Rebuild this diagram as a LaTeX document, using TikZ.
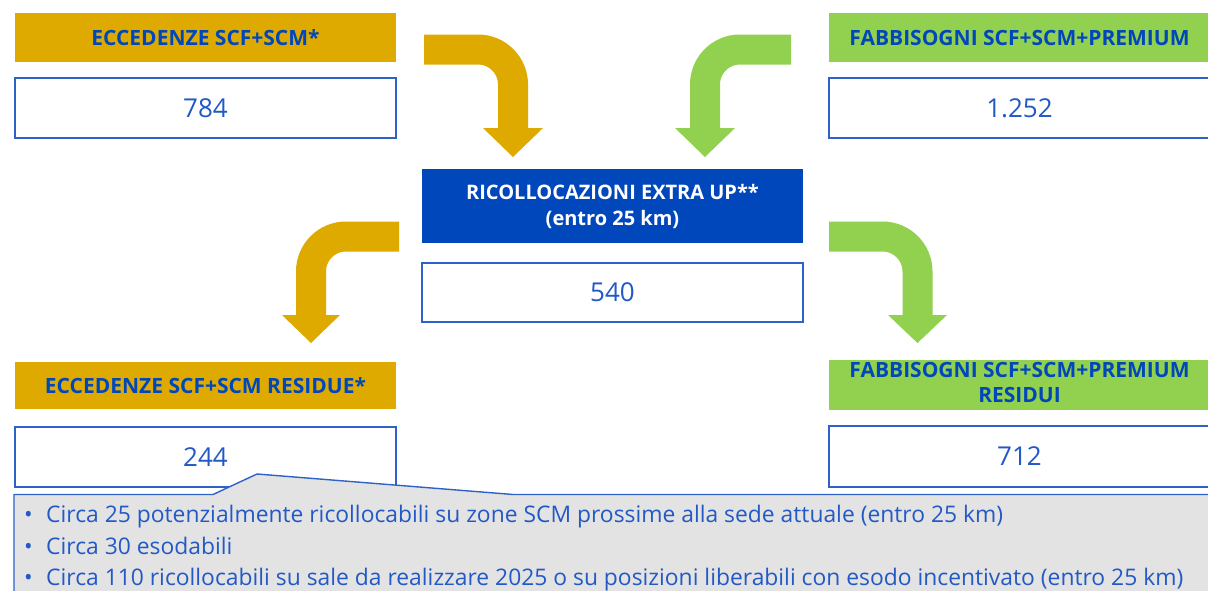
\documentclass[tikz,border=0pt]{standalone}
\usepackage{fontspec}
\setmainfont{Open Sans}
\definecolor{gold}{HTML}{DFAA00}
\definecolor{lgreen}{HTML}{92D050}
\definecolor{dblue}{HTML}{0047BB}
\definecolor{tblue}{HTML}{2259C6}
\definecolor{bordblue}{HTML}{2E62C9}
\definecolor{cgray}{HTML}{E3E3E3}
\newlength\LthreeW
\begin{document}
\settowidth\LthreeW{\fontsize{20pt}{24pt}\selectfont Circa 110 ricollocabili su sale da realizzare 2025 o su posizioni liberabili con esodo incentivato (entro 25 km)}%
\pgfmathsetmacro\bfs{20*(1137/\LthreeW)}%
\begin{tikzpicture}[x=1pt,y=-1pt,
  hdr/.style={rectangle,inner sep=0pt,outer sep=0pt,anchor=north west,minimum width=381pt,align=center,text=dblue,font=\fontsize{21pt}{25pt}\selectfont\bfseries},
  valbox/.style={rectangle,draw=bordblue,line width=1.1pt,fill=white,inner sep=0pt,outer sep=0pt,anchor=north west,minimum width=381pt,minimum height=60pt,text=tblue,font=\fontsize{26pt}{30pt}\selectfont},
  bentarrow/.style={line width=30pt,rounded corners=35pt},
  bullet/.style={anchor=base west,inner sep=0pt,text=tblue},
  bfont/.style={font=\fontsize{\bfs pt}{\bfs pt}\selectfont}
]
\useasboundingbox (0,0) rectangle (1208,590);
\fill[white] (0,0) rectangle (1208,590);
% top row
\node[hdr,fill=gold,minimum height=49pt] (h1) at (15,13) {ECCEDENZE SCF+SCM*};
\node[valbox] (v1) at (15,78) {784};
\node[hdr,fill=lgreen,minimum height=49pt,minimum width=390pt] (h2) at (829,13) {\hspace*{-9pt}FABBISOGNI SCF+SCM+PREMIUM};
\node[valbox,minimum width=390pt] (v2) at (829,78) {\hspace*{-9pt}1.252};
% centre
\node[hdr,fill=dblue,text=white,minimum height=74pt,font=\fontsize{20pt}{26pt}\selectfont\bfseries] (h3) at (422,169) {RICOLLOCAZIONI EXTRA UP**\\(entro 25 km)};
\node[valbox,minimum height=59pt] (v3) at (422,263) {540};
% bottom row
\node[hdr,fill=gold,minimum height=47pt] (h4) at (15,362) {ECCEDENZE SCF+SCM RESIDUE*};
\node[valbox] (v4) at (15,427) {244};
\node[hdr,fill=lgreen,minimum height=49pt,minimum width=390pt] (h5) at (829,360) {\hspace*{-9pt}\begin{tabular}{@{}c@{}}FABBISOGNI SCF+SCM+PREMIUM\\RESIDUI\end{tabular}};
\node[valbox,minimum width=390pt,minimum height=61pt] (v5) at (829,426) {\hspace*{-9pt}712};
% arrows
\coordinate (a1s) at (424,49.5); \coordinate (a1c) at (513,49.5); \coordinate (a1e) at (513,129);
\draw[bentarrow,gold] (a1s) -- (a1c) -- (a1e);
\fill[gold] (483,128) -- (543,128) -- (513,157) -- cycle;
\coordinate (a2s) at (791,49.5); \coordinate (a2c) at (705,49.5); \coordinate (a2e) at (705,129);
\draw[bentarrow,lgreen] (a2s) -- (a2c) -- (a2e);
\fill[lgreen] (675,128) -- (735,128) -- (705,157) -- cycle;
\coordinate (a3s) at (399,236.5); \coordinate (a3c) at (311,236.5); \coordinate (a3e) at (311,316);
\draw[bentarrow,gold] (a3s) -- (a3c) -- (a3e);
\fill[gold] (282,315) -- (340,315) -- (311,343) -- cycle;
\coordinate (a4s) at (829,236.5); \coordinate (a4c) at (917.5,236.5); \coordinate (a4e) at (917.5,316);
\draw[bentarrow,lgreen] (a4s) -- (a4c) -- (a4e);
\fill[lgreen] (888,315) -- (947,315) -- (917.5,343) -- cycle;
% callout
\coordinate (p0) at (14,494.5);
\coordinate (p1) at (213,494.5);
\coordinate (p2) at (257,474);
\coordinate (p3) at (513,494.5);
\coordinate (p4) at (1215,494.5);
\fill[cgray] (p0) -- (p1) -- (p2) -- (p3) -- (p4) -- (1215,600) -- (14,600) -- cycle;
\draw[bordblue,line width=1.4pt] (14,600) -- (p0) -- (p1) -- (p2) -- (p3) -- (p4);
% bullets
\node[bullet,bfont] (b1) at (24,522) {•};
\node[bullet,bfont] (t1) at (46,522) {Circa 25 potenzialmente ricollocabili su zone SCM prossime alla sede attuale (entro 25 km)};
\node[bullet,bfont] (b2) at (24,554) {•};
\node[bullet,bfont] (t2) at (46,554) {Circa 30 esodabili};
\node[bullet,bfont] (b3) at (24,585) {•};
\node[bullet,bfont] (t3) at (46,585) {Circa 110 ricollocabili su sale da realizzare 2025 o su posizioni liberabili con esodo incentivato (entro 25 km)};
\end{tikzpicture}
\end{document}
